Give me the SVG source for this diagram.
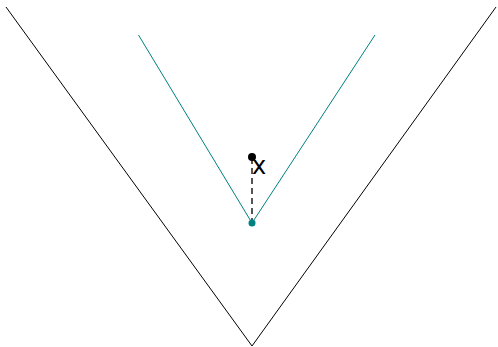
<svg xmlns="http://www.w3.org/2000/svg" width="498" height="347" viewBox="0 0 498 347">
<style>
.outer{fill:none;stroke:#000;stroke-width:1}
.inner{fill:none;stroke:#008080;stroke-width:1}
.dash{fill:none;stroke:#555;stroke-width:2;stroke-dasharray:6,4}
.lbl{font-family:"DejaVu Sans",sans-serif;font-size:24px;fill:#000}
</style>
<rect width="498" height="347" fill="#fff"/>
<g id="connectors">
<polyline class="outer" points="6,7 252,346 496,7"/>
<polyline class="inner" points="138.5,35 252,223 375,35"/>
<line class="dash" x1="252" y1="158" x2="252" y2="223"/>
</g>
<g id="apex"><circle cx="252" cy="223" r="3.5" fill="#008080"/></g>
<g id="x"><circle cx="252" cy="157" r="4" fill="#000"/><text class="lbl" x="252" y="174">x</text></g>
</svg>
